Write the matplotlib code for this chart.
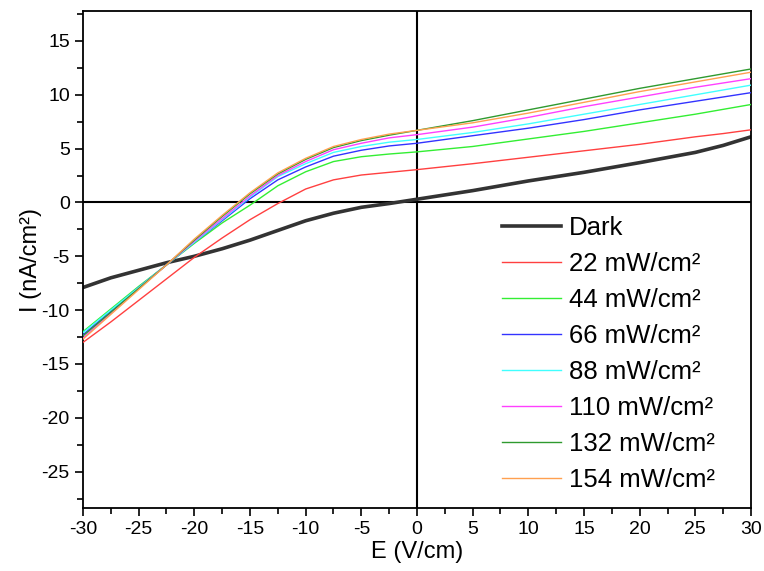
import matplotlib
matplotlib.use('Agg')
import matplotlib.pyplot as plt
from matplotlib.ticker import MultipleLocator

plt.rcParams['font.family'] = ['Liberation Sans', 'DejaVu Sans']
plt.rcParams['axes.unicode_minus'] = False

# field grid (V/cm), shared by all curves
E = [-30, -27.5, -25, -22.5, -20, -17.5, -15, -12.5, -10, -7.5, -5, -2.5,
     0, 5, 10, 15, 20, 25, 27.5, 30]

dark = [-7.9, -7.0, -6.3, -5.6, -5.0, -4.3, -3.5, -2.6, -1.7, -1.0, -0.45,
        -0.1, 0.3, 1.1, 2.0, 2.8, 3.7, 4.65, 5.3, 6.1]
p22 = [-13.0, -11.1, -9.1, -7.1, -5.1, -3.3, -1.6, -0.1, 1.25, 2.1, 2.55,
       2.8, 3.05, 3.6, 4.2, 4.8, 5.4, 6.1, 6.4, 6.75]
p44 = [-12.0, -9.9, -7.8, -5.8, -3.8, -1.9, -0.25, 1.55, 2.85, 3.8, 4.25,
       4.5, 4.7, 5.2, 5.9, 6.6, 7.4, 8.2, 8.65, 9.1]
p66 = [-12.3, -10.1, -7.9, -5.8, -3.7, -1.7, 0.35, 2.1, 3.3, 4.3, 4.85,
       5.25, 5.5, 6.2, 6.9, 7.7, 8.6, 9.4, 9.8, 10.2]
p88 = [-12.1, -10.0, -7.9, -5.8, -3.7, -1.6, 0.5, 2.4, 3.6, 4.65, 5.2,
       5.6, 5.85, 6.5, 7.3, 8.2, 9.1, 10.0, 10.45, 10.9]
p110 = [-12.6, -10.3, -8.0, -5.8, -3.6, -1.5, 0.6, 2.5, 3.8, 4.9, 5.5,
        6.0, 6.3, 7.0, 7.9, 8.9, 9.8, 10.7, 11.1, 11.5]
p132 = [-12.4, -10.2, -8.0, -5.8, -3.5, -1.3, 0.8, 2.65, 4.0, 5.1, 5.75,
        6.25, 6.7, 7.6, 8.6, 9.6, 10.6, 11.5, 11.95, 12.4]
p154 = [-12.7, -10.4, -8.1, -5.8, -3.4, -1.2, 0.9, 2.75, 4.1, 5.2, 5.85,
        6.35, 6.7, 7.4, 8.3, 9.3, 10.3, 11.2, 11.65, 12.1]

labels = ['22 mW/cm²', '44 mW/cm²', '66 mW/cm²', '88 mW/cm²',
          '110 mW/cm²', '132 mW/cm²', '154 mW/cm²']
series = [p22, p44, p66, p88, p110, p132, p154]
colors = ['#ff4040', '#33ee33', '#3333ff', '#40ffff', '#ff40ff',
          '#2f9a2f', '#ffa050']

fig = plt.figure(figsize=(7.64, 5.71), dpi=100)
ax = fig.add_axes([0.1086, 0.110, 0.8744, 0.871])

ax.axhline(0, color='black', lw=1.5, zorder=1)
ax.axvline(0, color='black', lw=1.5, zorder=1)

ax.plot(E, dark, color='#333333', lw=2.6, label='Dark', zorder=2)
for y, c, lab in zip(series, colors, labels):
    ax.plot(E, y, color=c, lw=1.0, label=lab, zorder=3)

ax.set_xlim(-30, 30)
ax.set_ylim(-28.4, 17.8)
ax.xaxis.set_major_locator(MultipleLocator(5))
ax.xaxis.set_minor_locator(MultipleLocator(2.5))
ax.yaxis.set_major_locator(MultipleLocator(5))
ax.yaxis.set_minor_locator(MultipleLocator(2.5))
ax.tick_params(which='both', direction='out', top=False, right=False,
               width=1.2, labelsize=14)
ax.tick_params(which='major', length=6)
ax.tick_params(which='minor', length=4)
for s in ax.spines.values():
    s.set_linewidth(1.3)

ax.set_xlabel('E (V/cm)', fontsize=17, labelpad=2)
ax.set_ylabel('I (nA/cm²)', fontsize=17, labelpad=0)

ax.legend(loc='upper left', bbox_to_anchor=(0.593, 0.635), frameon=False,
          fontsize=18.5, handlelength=2.3, labelspacing=0.47,
          handletextpad=0.3)

fig.savefig('out.png', dpi=100)
